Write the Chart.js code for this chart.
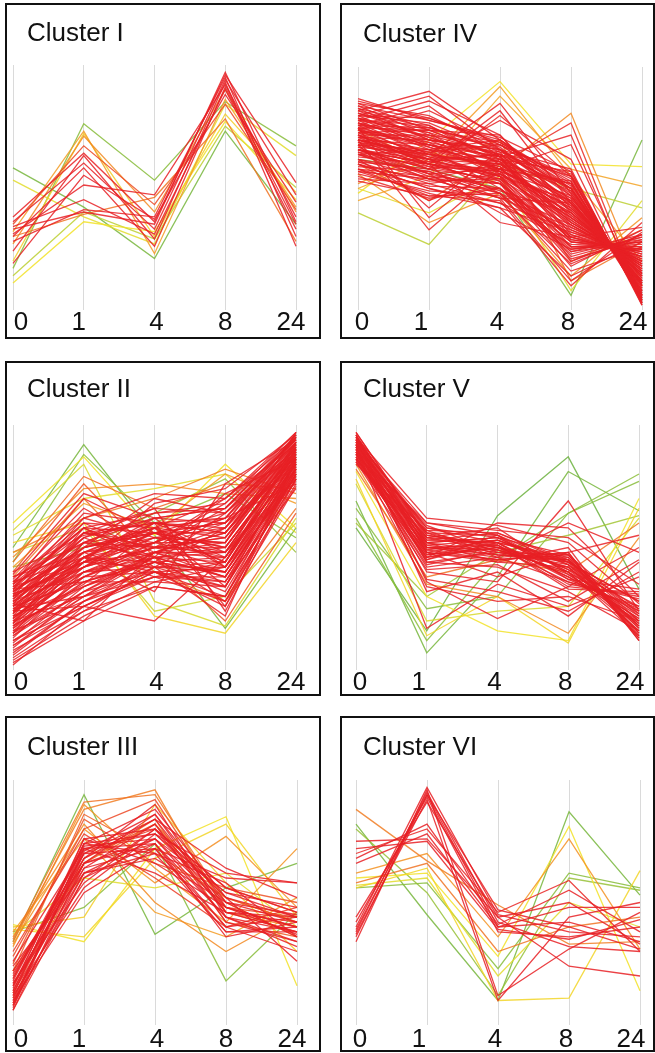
<!DOCTYPE html>
<html>
<head>
<meta charset="utf-8">
<script src="https://cdn.jsdelivr.net/npm/chart.js@4.4.1/dist/chart.umd.min.js"></script>
<style>
  html, body { margin: 0; padding: 0; background: #fff; }
  body { width: 655px; height: 1053px; position: relative; overflow: hidden; }
  .panel { position: absolute; box-sizing: border-box; border: 2px solid #111; background: #fff; }
  .panel canvas { position: absolute; left: 0; top: 0; }
</style>
</head>
<body>
<div class="panel" style="left:5px;top:3px;width:316px;height:336px"><canvas id="c1" width="312" height="332"></canvas></div>
<div class="panel" style="left:340px;top:3px;width:315px;height:336px"><canvas id="c4" width="311" height="332"></canvas></div>
<div class="panel" style="left:5px;top:361px;width:316px;height:335px"><canvas id="c2" width="312" height="331"></canvas></div>
<div class="panel" style="left:340px;top:361px;width:315px;height:335px"><canvas id="c5" width="311" height="331"></canvas></div>
<div class="panel" style="left:5px;top:716px;width:316px;height:336px"><canvas id="c3" width="312" height="332"></canvas></div>
<div class="panel" style="left:340px;top:716px;width:315px;height:336px"><canvas id="c6" width="311" height="332"></canvas></div>

<script>
// time points (h) shared by every cluster
const timePoints = ['0', '1', '4', '8', '24'];

// scaled expression profiles, one row per gene, and its cluster membership
const clusterI = [
  [58, 42, 21, 73, 35], [17, 76, 53, 85, 67], [53, 38, 27, 84, 63], [11, 36, 32, 77, 45],
  [20, 72, 30, 80, 48], [32, 73, 23, 86, 42], [27, 71, 40, 90, 40], [30, 39, 46, 78, 28],
  [38, 64, 36, 96, 52], [36, 60, 33, 94, 47], [31, 51, 47, 92, 38], [34, 45, 31, 90, 33],
  [28, 41, 38, 95, 30], [24, 63, 29, 93, 26], [19, 55, 37, 88, 44], [33, 40, 35, 97, 36],
  [35, 67, 43, 84, 41], [30, 58, 26, 91, 35], [14, 40, 29, 75, 50]
];
const clusterIMembership = [
  0.22, 0.25, 0.42, 0.45,
  0.5, 0.62, 0.66, 0.7,
  0.92, 0.95, 0.9, 0.88,
  0.93, 0.97, 0.86, 1,
  0.78, 0.9, 0.35
];

const clusterII = [
  [40, 55, 60, 62, 96], [38, 48, 52, 70, 92], [36, 60, 48, 58, 95], [35, 52, 64, 66, 90], [34, 44, 56, 50, 88],
  [33, 58, 46, 72, 86], [32, 50, 58, 46, 93], [31, 42, 50, 60, 84], [30, 62, 54, 52, 97], [30, 46, 62, 42, 82],
  [29, 54, 44, 64, 89], [28, 40, 48, 38, 80], [28, 48, 60, 56, 91], [27, 56, 52, 68, 94], [26, 36, 46, 48, 78],
  [26, 50, 58, 34, 85], [25, 44, 42, 58, 87], [24, 58, 56, 44, 92], [24, 38, 52, 62, 76], [23, 46, 40, 30, 83],
  [22, 52, 50, 54, 90], [22, 34, 44, 40, 79], [21, 42, 56, 50, 88], [20, 48, 38, 36, 74], [20, 30, 48, 46, 84],
  [19, 40, 46, 28, 80], [18, 44, 54, 52, 93], [17, 36, 36, 42, 77], [16, 28, 42, 34, 86], [15, 38, 50, 48, 82],
  [14, 32, 40, 26, 75], [12, 26, 38, 44, 89], [10, 30, 46, 38, 81], [8, 24, 34, 30, 78], [6, 28, 44, 40, 85],
  [4, 22, 36, 34, 80], [37, 66, 50, 42, 87], [35, 70, 56, 60, 83], [33, 64, 60, 48, 90], [39, 72, 62, 66, 96],
  [27, 20, 48, 56, 88], [24, 26, 20, 46, 84], [30, 44, 68, 74, 96], [32, 50, 70, 64, 92], [29, 56, 66, 24, 78],
  [26, 42, 60, 26, 82], [21, 46, 32, 76, 94], [36, 62, 72, 70, 97], [18, 35, 58, 62, 91], [34, 58, 42, 22, 86],
  [38, 52, 56, 64, 95], [36, 46, 58, 54, 91], [34, 56, 50, 66, 94], [33, 48, 54, 48, 88], [32, 54, 62, 60, 96],
  [31, 44, 48, 56, 86], [30, 50, 56, 44, 90], [29, 46, 52, 62, 93], [28, 52, 46, 50, 87], [27, 42, 54, 58, 92],
  [26, 48, 58, 42, 84], [25, 40, 50, 54, 89], [24, 46, 44, 46, 85], [23, 50, 56, 60, 94], [22, 38, 48, 40, 82],
  [21, 44, 52, 52, 90], [20, 40, 42, 44, 86], [19, 46, 56, 56, 92], [18, 34, 46, 38, 81], [17, 42, 50, 50, 88],
  [16, 38, 40, 42, 84], [15, 32, 48, 52, 90], [14, 36, 44, 36, 80], [13, 40, 52, 46, 87], [12, 30, 42, 40, 83],
  [11, 34, 48, 48, 89], [10, 26, 40, 34, 79], [9, 32, 46, 44, 86], [7, 28, 38, 38, 82], [5, 24, 42, 42, 87],
  [3, 20, 34, 30, 78], [2, 26, 40, 36, 84], [35, 58, 64, 68, 97], [31, 60, 58, 70, 95], [27, 54, 66, 64, 93],
  [23, 56, 60, 56, 91], [19, 52, 62, 66, 95], [33, 36, 44, 32, 80], [25, 30, 38, 28, 76], [15, 46, 60, 58, 93],
  [44, 79, 66, 76, 74], [46, 74, 76, 72, 70], [42, 68, 58, 80, 68], [40, 76, 46, 20, 64], [48, 62, 70, 82, 72],
  [38, 70, 40, 28, 66], [60, 87, 55, 84, 58], [57, 84, 28, 18, 62], [52, 60, 22, 15, 52], [55, 70, 74, 80, 56],
  [48, 58, 24, 30, 60], [50, 92, 55, 17, 58], [44, 88, 60, 72, 54], [42, 50, 64, 78, 48]
];
const clusterIIMembership = [
  1, 0.93, 0.88, 0.96, 0.9, 0.85, 0.98, 0.91, 0.87, 0.94,
  1, 0.93, 0.88, 0.96, 0.9, 0.85, 0.98, 0.91, 0.87, 0.94,
  1, 0.93, 0.88, 0.96, 0.9, 0.85, 0.98, 0.91, 0.87, 0.94,
  1, 0.93, 0.88, 0.96, 0.9, 0.85, 0.98, 0.91, 0.87, 0.94,
  1, 0.93, 0.88, 0.96, 0.9, 0.85, 0.98, 0.91, 0.87, 0.94,
  1, 0.93, 0.88, 0.96, 0.9, 0.85, 0.98, 0.91, 0.87, 0.94,
  1, 0.93, 0.88, 0.96, 0.9, 0.85, 0.98, 0.91, 0.87, 0.94,
  1, 0.93, 0.88, 0.96, 0.9, 0.85, 0.98, 0.91, 0.87, 0.94,
  1, 0.93, 0.88, 0.96, 0.9, 0.85, 0.98, 0.91, 0.87, 0.94,
  0.72, 0.66, 0.62, 0.75, 0.68,
  0.7, 0.45, 0.4, 0.48, 0.42,
  0.38, 0.22, 0.26, 0.28
];

const clusterIII = [
  [8, 74, 88, 52, 44], [10, 70, 84, 48, 40], [12, 76, 80, 56, 46], [14, 68, 90, 44, 38], [7, 72, 78, 50, 36],
  [16, 66, 86, 46, 42], [11, 64, 82, 42, 34], [18, 73, 76, 54, 48], [9, 60, 74, 40, 44], [20, 70, 72, 60, 58],
  [13, 62, 70, 38, 40], [15, 76, 66, 48, 37], [22, 68, 84, 64, 52], [17, 58, 80, 52, 26], [6, 66, 74, 36, 42],
  [19, 74, 70, 58, 36], [24, 62, 68, 50, 45], [12, 56, 78, 62, 58], [26, 72, 62, 46, 38], [10, 54, 72, 40, 30],
  [21, 66, 76, 44, 32],
  [9, 71, 86, 50, 42], [13, 68, 82, 46, 38], [16, 74, 78, 54, 44], [11, 66, 84, 42, 36], [8, 62, 76, 48, 40],
  [19, 70, 80, 56, 46], [14, 72, 74, 44, 34], [22, 66, 82, 52, 42], [17, 64, 72, 38, 38], [6, 60, 80, 46, 44],
  [28, 80, 92, 48, 44], [25, 84, 66, 56, 50], [30, 78, 60, 40, 48], [22, 86, 70, 52, 42],
  [34, 88, 96, 46, 40], [32, 90, 64, 42, 72], [36, 82, 50, 30, 46], [38, 76, 46, 36, 52], [35, 91, 94, 50, 36],
  [33, 80, 58, 77, 48],
  [41, 34, 72, 85, 16], [39, 36, 68, 82, 44], [37, 60, 56, 62, 40], [40, 44, 90, 58, 30],
  [34, 94, 37, 56, 66], [38, 48, 74, 18, 46]
];
const clusterIIIMembership = [
  1, 0.93, 0.88, 0.96, 0.9, 0.85, 0.98, 0.91, 0.87, 0.94,
  1, 0.93, 0.88, 0.96, 0.9, 0.85, 0.98, 0.91, 0.87, 0.94,
  0.9,
  0.95, 0.78, 0.92, 0.75, 0.97, 0.8, 0.93, 0.72, 0.91, 0.84,
  0.78, 0.76, 0.8, 0.74,
  0.68, 0.64, 0.66, 0.62, 0.7,
  0.65,
  0.45, 0.48, 0.42, 0.5,
  0.22, 0.25
];

const clusterIV = [
  [87, 78, 70, 52, 6], [85, 80, 66, 48, 9], [84, 72, 68, 55, 4], [83, 76, 60, 45, 10], [82, 70, 64, 50, 7],
  [81, 74, 72, 42, 14], [80, 68, 58, 38, 18], [80, 77, 65, 56, 3], [79, 71, 62, 35, 20], [78, 66, 70, 47, 11],
  [78, 73, 56, 40, 16], [77, 69, 63, 30, 24], [76, 64, 60, 52, 8], [76, 75, 67, 44, 12], [75, 62, 54, 36, 19],
  [74, 70, 66, 58, 2], [74, 67, 59, 26, 27], [73, 61, 64, 41, 15], [72, 72, 57, 33, 22], [72, 65, 68, 49, 10],
  [71, 60, 52, 28, 25], [70, 68, 61, 46, 13], [70, 63, 55, 22, 30], [69, 58, 62, 37, 18], [68, 66, 50, 31, 21],
  [67, 56, 58, 53, 5], [66, 62, 48, 24, 28], [65, 54, 60, 39, 17], [64, 59, 53, 20, 31], [62, 57, 46, 34, 20],
  [61, 52, 56, 43, 13], [60, 50, 44, 27, 26], [58, 55, 52, 18, 33], [57, 48, 42, 32, 23], [55, 46, 50, 25, 29],
  [86, 79, 68, 50, 5], [85, 74, 63, 44, 11], [84, 78, 71, 57, 3], [83, 70, 58, 40, 15], [82, 75, 66, 47, 8],
  [81, 71, 61, 36, 19], [80, 79, 69, 53, 4], [79, 73, 64, 43, 12], [79, 67, 57, 32, 22], [78, 76, 62, 49, 7],
  [77, 70, 66, 38, 17], [77, 64, 55, 29, 25], [76, 72, 64, 55, 4], [75, 68, 58, 42, 14], [75, 74, 69, 51, 6],
  [74, 63, 61, 34, 21], [73, 69, 55, 45, 11], [73, 74, 63, 28, 26], [72, 62, 60, 39, 16], [71, 66, 58, 52, 6],
  [71, 70, 65, 31, 23], [70, 59, 57, 44, 12], [69, 65, 53, 26, 28], [69, 62, 64, 50, 8], [68, 60, 56, 35, 19],
  [67, 64, 59, 41, 14], [66, 58, 54, 29, 24], [65, 61, 57, 47, 10], [64, 56, 50, 23, 30], [63, 60, 55, 37, 17],
  [62, 54, 52, 30, 22], [61, 58, 49, 40, 15], [60, 53, 54, 21, 29], [59, 57, 48, 35, 18], [58, 51, 50, 28, 24],
  [57, 54, 46, 44, 11], [56, 49, 47, 19, 31], [54, 52, 44, 33, 20], [53, 47, 48, 26, 25], [64, 66, 62, 57, 3],
  [82, 90, 70, 50, 8], [80, 88, 66, 45, 12], [78, 86, 72, 40, 15], [76, 84, 63, 36, 20], [74, 82, 68, 54, 6],
  [70, 64, 85, 48, 10], [72, 60, 82, 44, 14], [66, 58, 80, 55, 5], [68, 62, 78, 62, 2],
  [75, 38, 62, 46, 12], [70, 33, 58, 42, 16], [68, 42, 66, 50, 9], [62, 45, 56, 38, 18],
  [72, 60, 36, 30, 22], [66, 56, 40, 25, 28],
  [70, 64, 60, 77, 4], [74, 68, 63, 72, 3], [66, 60, 58, 68, 6],
  [64, 54, 46, 12, 32], [60, 50, 42, 14, 28], [58, 47, 45, 10, 36], [66, 55, 48, 16, 26],
  [70, 62, 55, 30, 34], [66, 60, 52, 24, 31],
  [52, 65, 58, 81, 10], [50, 62, 92, 55, 20], [48, 70, 94, 60, 59], [45, 55, 88, 58, 51], [40, 27, 60, 50, 42],
  [62, 58, 50, 6, 70], [50, 40, 55, 8, 45], [56, 36, 48, 14, 38], [60, 45, 64, 20, 33], [74, 60, 70, 12, 28]
];
const clusterIVMembership = [
  1, 0.95, 0.9, 0.97, 0.92,
  0.88, 0.96, 0.9, 0.93, 1,
  0.91, 0.87, 0.95, 0.98, 0.9,
  0.93, 0.86, 0.96, 0.92, 1,
  0.89, 0.94, 0.88, 0.97, 0.91,
  0.95, 0.87, 0.93, 0.9, 0.86,
  0.92, 0.88, 0.85, 0.89, 0.84,
  1, 0.93, 0.88, 0.96, 0.9, 0.85, 0.98, 0.91, 0.87, 0.94,
  1, 0.93, 0.88, 0.96, 0.9, 0.85, 0.98, 0.91, 0.87, 0.94,
  1, 0.93, 0.88, 0.96, 0.9, 0.85, 0.98, 0.91, 0.87, 0.94,
  1, 0.93, 0.88, 0.96, 0.9, 0.85, 0.98, 0.91, 0.87, 0.94,
  0.9, 0.86, 0.92, 0.88, 0.85,
  0.87, 0.9, 0.84, 0.88,
  0.86, 0.84, 0.88, 0.9,
  0.87, 0.85,
  0.83, 0.86, 0.88,
  0.86, 0.89, 0.84, 0.9,
  0.85, 0.87,
  0.66, 0.62, 0.45, 0.6, 0.35,
  0.22, 0.42, 0.64, 0.75, 0.7
];

const clusterV = [
  [97, 55, 50, 44, 18], [96, 52, 54, 40, 14], [95, 50, 47, 46, 20], [94, 58, 52, 38, 24], [94, 48, 44, 42, 16],
  [93, 53, 56, 45, 22], [92, 46, 50, 36, 26], [92, 56, 46, 48, 13], [91, 51, 53, 41, 19], [90, 44, 48, 44, 28],
  [90, 54, 58, 39, 21], [89, 49, 45, 47, 15], [88, 47, 52, 35, 30], [88, 60, 55, 43, 17], [87, 43, 49, 40, 23],
  [86, 52, 44, 50, 12], [86, 45, 55, 37, 25], [85, 50, 51, 33, 32], [84, 57, 47, 45, 18], [95, 62, 59, 52, 27],
  [93, 60, 57, 54, 35], [91, 37, 32, 24, 40], [89, 34, 28, 30, 20], [96, 32, 40, 22, 44], [92, 17, 35, 26, 38],
  [94, 36, 21, 34, 50], [90, 40, 36, 69, 24], [88, 42, 46, 60, 48], [87, 46, 60, 58, 30], [86, 48, 38, 48, 55],
  [85, 41, 43, 28, 45], [93, 44, 42, 32, 16],
  [97, 54, 52, 45, 15], [96, 50, 49, 42, 19], [95, 56, 55, 40, 22], [94, 52, 48, 47, 14], [93, 49, 53, 43, 24],
  [92, 55, 51, 38, 20], [92, 51, 47, 45, 17], [91, 58, 54, 41, 26], [90, 47, 50, 39, 21], [89, 53, 52, 46, 13],
  [89, 50, 46, 36, 29], [88, 56, 50, 42, 18], [87, 48, 53, 44, 25], [86, 54, 49, 40, 16], [85, 46, 51, 34, 31],
  [95, 48, 45, 48, 12], [94, 57, 56, 44, 28], [91, 45, 52, 37, 33], [90, 59, 48, 43, 20], [88, 52, 54, 47, 23],
  [84, 35, 30, 15, 54], [82, 38, 45, 40, 60],
  [81, 30, 16, 12, 70], [76, 20, 24, 26, 62], [78, 14, 30, 11, 66],
  [69, 7, 38, 81, 65], [58, 16, 63, 87, 33], [62, 12, 45, 64, 80], [66, 25, 30, 64, 77], [60, 30, 48, 55, 63]
];
const clusterVMembership = [
  1, 0.93, 0.88, 0.96, 0.9, 0.85, 0.98, 0.91, 0.87, 0.94,
  1, 0.93, 0.88, 0.96, 0.9, 0.85, 0.98, 0.91, 0.87, 0.94,
  1, 0.93, 0.88, 0.96, 0.9, 0.85, 0.98, 0.91, 0.87, 0.94,
  0.9, 0.86,
  1, 0.93, 0.88, 0.96, 0.9, 0.85, 0.98, 0.91, 0.87, 0.94,
  1, 0.93, 0.88, 0.96, 0.9, 0.85, 0.98, 0.91, 0.87, 0.94,
  0.66, 0.7,
  0.45, 0.4, 0.48,
  0.22, 0.2, 0.26, 0.25, 0.3
];

const clusterVI = [
  [40, 97, 45, 38, 36], [38, 95, 42, 32, 30], [36, 94, 40, 42, 34], [42, 93, 38, 36, 40],
  [34, 96, 12, 31, 46], [37, 92, 10, 44, 50], [44, 91, 44, 50, 33], [39, 94, 47, 40, 31],
  [75, 76, 44, 24, 20], [70, 80, 46, 59, 30], [68, 82, 41, 55, 38], [66, 78, 40, 48, 48], [72, 75, 39, 35, 43],
  [88, 67, 49, 33, 34], [62, 70, 36, 76, 31], [58, 66, 30, 40, 44],
  [60, 62, 28, 81, 14], [56, 64, 10, 11, 63], [57, 60, 20, 50, 40],
  [82, 45, 10, 87, 53], [56, 58, 23, 62, 56], [80, 54, 12, 60, 55]
];
const clusterVIMembership = [
  1, 0.96, 0.92, 0.98,
  0.9, 0.88, 0.94, 0.97,
  0.86, 0.84, 0.87, 0.85, 0.9,
  0.68, 0.64, 0.7,
  0.45, 0.48, 0.42,
  0.22, 0.25, 0.28
];

// membership -> line colour (green = loose, red = tight)
const memberStops = [
  [0.2, [108, 178, 62]],
  [0.45, [242, 226, 40]],
  [0.65, [243, 142, 34]],
  [0.85, [232, 32, 36]]
];

function memberColor(m) {
  let c = m <= memberStops[0][0] ? memberStops[0][1] : memberStops[memberStops.length - 1][1];
  for (let i = 1; i < memberStops.length; i++) {
    const [m0, c0] = memberStops[i - 1];
    const [m1, c1] = memberStops[i];
    if (m >= m0 && m <= m1) {
      const t = (m - m0) / (m1 - m0);
      c = c0.map((v, k) => Math.round(v + (c1[k] - v) * t));
      break;
    }
  }
  return `rgba(${c[0]},${c[1]},${c[2]},0.85)`;
}

// title in the corner and the time labels under the grid lines
const panelText = {
  id: 'panelText',
  afterDraw(chart, args, opts) {
    const ctx = chart.ctx;
    const xs = chart.scales.x;
    ctx.save();
    ctx.fillStyle = '#111';
    ctx.font = '26px "Liberation Sans", Arial, sans-serif';
    ctx.textBaseline = 'alphabetic';
    ctx.textAlign = 'left';
    ctx.fillText(opts.title, opts.titleX, opts.titleY);
    ctx.textAlign = 'center';
    timePoints.forEach((t, i) => {
      ctx.fillText(t, xs.getPixelForTick(i) + opts.tickShift[i], opts.tickY);
    });
    ctx.restore();
  }
};

const leftShift = [8, -5, 2, 0, -5];
const rightShift = [4, -8, -3, -3, -9];

function drawCluster(id, title, profiles, membership, pad, text) {
  const datasets = profiles.map((p, i) => {
    const m = membership[i] ?? 1;
    return {
      data: p,
      borderColor: memberColor(m),
      borderWidth: 1.3,
      pointRadius: 0,
      tension: 0,
      fill: false,
      clip: false,
      order: Math.round((1 - m) * 100)
    };
  });

  new Chart(document.getElementById(id), {
    type: 'line',
    data: { labels: timePoints, datasets },
    plugins: [panelText],
    options: {
      responsive: false,
      animation: false,
      events: [],
      layout: { padding: pad },
      plugins: {
        legend: { display: false },
        tooltip: { enabled: false },
        panelText: { title, ...text }
      },
      scales: {
        x: {
          display: true,
          grid: { color: '#dadada', lineWidth: 1, drawTicks: false },
          border: { display: false },
          ticks: { display: false }
        },
        y: { display: false, min: 0, max: 100 }
      }
    }
  });
}

drawCluster('c1', 'Cluster I', clusterI, clusterIMembership,
  { left: 6, right: 23, top: 60, bottom: 27 },
  { titleX: 20, titleY: 36, tickY: 325, tickShift: leftShift });
drawCluster('c4', 'Cluster IV', clusterIV, clusterIVMembership,
  { left: 16, right: 11, top: 62, bottom: 27 },
  { titleX: 21, titleY: 37, tickY: 325, tickShift: rightShift });
drawCluster('c2', 'Cluster II', clusterII, clusterIIMembership,
  { left: 6, right: 23, top: 62, bottom: 24 },
  { titleX: 20, titleY: 34, tickY: 327, tickShift: leftShift });
drawCluster('c5', 'Cluster V', clusterV, clusterVMembership,
  { left: 14, right: 14, top: 62, bottom: 24 },
  { titleX: 21, titleY: 34, tickY: 327, tickShift: rightShift });
drawCluster('c3', 'Cluster III', clusterIII, clusterIIIMembership,
  { left: 6, right: 22, top: 62, bottom: 25 },
  { titleX: 20, titleY: 37, tickY: 329, tickShift: leftShift });
drawCluster('c6', 'Cluster VI', clusterVI, clusterVIMembership,
  { left: 14, right: 13, top: 62, bottom: 25 },
  { titleX: 21, titleY: 37, tickY: 329, tickShift: rightShift });
</script>
</body>
</html>
